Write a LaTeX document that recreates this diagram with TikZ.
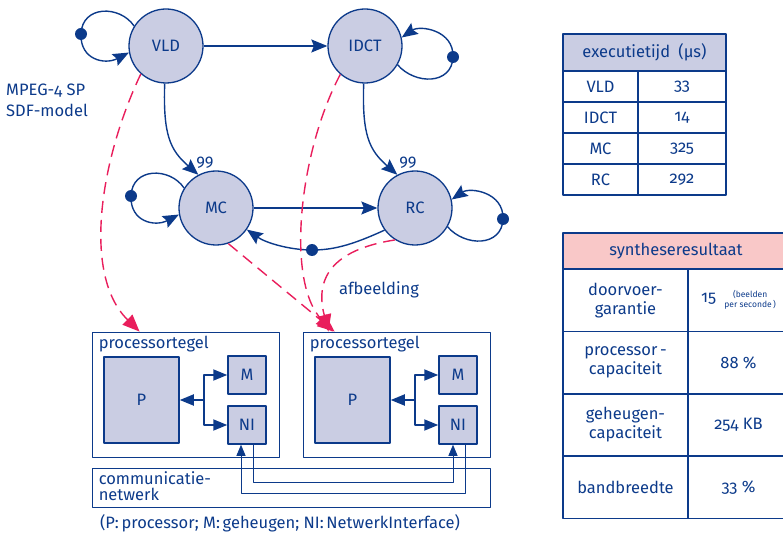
\documentclass[tikz,border=0pt]{standalone}
\usepackage{fontspec}
\setmainfont{Fira Sans}[Numbers=OldStyle]
\usetikzlibrary{arrows.meta,positioning}
\definecolor{dblue}{RGB}{12,58,138}
\definecolor{lavender}{RGB}{202,205,227}
\definecolor{rose}{RGB}{249,200,200}
\definecolor{mred}{RGB}{233,30,92}
\tikzset{
	actor/.style={circle, draw=dblue, fill=lavender, line width=1.3pt, minimum size=74pt, inner sep=0pt},
	tile/.style={draw=dblue, line width=0.9pt, inner sep=0pt},
	unit/.style={draw=dblue, fill=lavender, line width=1.5pt, inner sep=0pt},
	edge/.style={draw=dblue, line width=1.4pt, -{Stealth[length=16pt,width=13pt,inset=2.5pt]}},
	tiledge/.style={draw=dblue, line width=1.8pt, -{Triangle[length=14pt,width=11pt]}},
	wire/.style={draw=dblue, line width=0.9pt, -{Triangle[length=11pt,width=9pt]}},
	mapping/.style={draw=mred, line width=1.4pt, dash pattern=on 12pt off 7pt, -{Triangle[length=17pt,width=14pt]}},
	cell/.style={draw=dblue, line width=1.6pt, inner sep=0pt, align=center},
	lbl/.style={inner sep=0pt}
}
\begin{document}
\begin{tikzpicture}[x=1pt, y=-1pt, line join=round, text=dblue, font=\fontsize{16.5}{18}\selectfont]
	\useasboundingbox (0,0) rectangle (783,534);
	% SDF-model
	\node[actor] (VLD) at (166,46) {VLD};
	\node[actor] (IDCT) at (365,46) {IDCT};
	\node[actor] (MC) at (216,208) {MC};
	\node[actor] (RC) at (415,208) {RC};
	\node[lbl, align=left, anchor=north west, font=\fontsize{16.5}{21}\selectfont] (title) at (6,84) {MPEG-4 SP\\SDF-model};
	\node[lbl] (qMC) at (205,163) {99};
	\node[lbl] (qRC) at (408,163) {99};
	\node[lbl] (afb) at (379,290) {afbeelding};
	\draw[edge] (VLD) -- (IDCT);
	\draw[edge] (MC) -- (RC);
	\foreach \s/\t in {VLD/MC, IDCT/RC}
	\draw[edge] (\s.268) .. controls ([shift={(-3,89)}]\s.center) and ([shift={(4,104)}]\s.center) .. (\t.118);
	\foreach \a in {VLD, MC}{
		\draw[edge] (\a.148) .. controls ([shift={(-46,-41)}]\a.center) and ([shift={(-84,-41)}]\a.center) .. ([shift={(-85,-12)}]\a.center)
		.. controls ([shift={(-86,14)}]\a.center) and ([shift={(-61,19)}]\a.center) .. (\a.190);
		\fill[dblue] ([shift={(-85,-12)}]\a.center) circle (6pt);
	}
	\foreach \a in {IDCT, RC}{
		\draw[edge] (\a.330) .. controls ([shift={(50,39)}]\a.center) and ([shift={(87,39)}]\a.center) .. ([shift={(88,11)}]\a.center)
		.. controls ([shift={(89,-16)}]\a.center) and ([shift={(55,-21)}]\a.center) .. (\a.13);
		\fill[dblue] ([shift={(88,11)}]\a.center) circle (6pt);
	}
	\path (312,250) coordinate (tok);
	\draw[edge] (RC.216) .. controls (350,246) and (332,250) .. (tok) .. controls (290,250) and (266,243) .. (MC.325);
	\fill[dblue] (tok) circle (6pt);
	% architectuur
	\foreach \t/\x in {A/185.5, B/396.5}{
		\node[tile, minimum width=187pt, minimum height=125pt] (tile\t) at (\x,394.5) {};
		\node[lbl, anchor=north west] at ([shift={(7pt,-4pt)}]tile\t.north west) {processortegel};
		\node[unit, minimum width=75pt, minimum height=86pt] (P\t) at (\x-44,400) {P};
		\node[unit, minimum size=38pt] (M\t) at (\x+61.5,375) {M};
		\node[unit, minimum size=38pt] (NI\t) at (\x+61.5,425) {NI};
		\path ([xshift=24pt]P\t.east) coordinate (J\t);
		\draw[tiledge] (J\t) -- (P\t.east);
		\draw[tiledge] (J\t) |- (M\t);
		\draw[tiledge] (J\t) |- (NI\t);
	}
	\node[tile, minimum width=398pt, minimum height=39pt] (net) at (291,487.5) {};
	\node[lbl, align=left, anchor=north west, font=\fontsize{16.5}{16}\selectfont] at ([shift={(7pt,-4pt)}]net.north west) {communicatie-\\netwerk};
	\draw[wire] ([xshift=6pt]NIA.south) -- ++(0,38) -| ([xshift=-5pt]NIB.south);
	\draw[wire] ([xshift=7pt]NIB.south) -- ++(0,49) -| ([xshift=-6pt]NIA.south);
	\node[lbl] (legend) at (280,523) {(P:\,processor; M:\,geheugen; NI:\,NetwerkInterface)};
	% afbeelding
	\draw[mapping] (VLD.228) .. controls (100,160) and (82,275) .. ([xshift=48pt]tileA.north west);
	\draw[mapping] (IDCT.229) .. controls (300,150) and (285,280) .. ([xshift=30pt]tileB.north west);
	\draw[mapping] (MC.289) -- ([xshift=32pt]tileB.north west);
	\draw[mapping] (RC.238) .. controls (330,250) and (315,280) .. ([xshift=26pt]tileB.north west);
	% tabellen
	\node[cell, fill=lavender, minimum width=163pt, minimum height=37pt] (exhead) at (644.5,52.5) {executietijd\enspace(µs)};
	\foreach \n/\v [count=\i] in {VLD/33, IDCT/14, MC/325, RC/292}{
		\node[cell, minimum width=75pt, minimum height=31pt] (exn\i) at (600.5,55.5+31*\i) {\n};
		\node[cell, minimum width=88pt, minimum height=31pt] (exv\i) at (682,55.5+31*\i) {\v};
	}
	\node[cell, fill=rose, minimum width=226pt, minimum height=36pt] (syhead) at (676,251) {syntheseresultaat};
	\foreach \n/\v [count=\i] in {{doorvoer-\\garantie}/{15\enspace{\fontsize{8.5}{9.5}\selectfont\begin{tabular}{@{}c@{}}(beelden\\per seconde\,)\end{tabular}}},
		{processor\,-\\capaciteit}/{88 \%}, {geheugen-\\capaciteit}/{254 KB}, {bandbreedte}/{33 \%}}{
		\node[cell, minimum width=125pt, minimum height=62.3pt, font=\fontsize{16.5}{19}\selectfont] (syn\i) at (625.5,238.15+62.3*\i) {\n};
		\node[cell, minimum width=101pt, minimum height=62.3pt] (syv\i) at (738.5,238.15+62.3*\i) {\v};
	}
\end{tikzpicture}
\end{document}
